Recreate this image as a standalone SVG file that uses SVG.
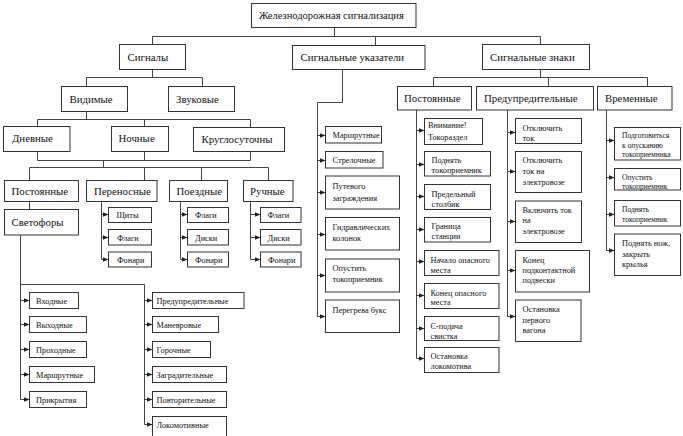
<svg xmlns="http://www.w3.org/2000/svg" width="683" height="436" viewBox="0 0 683 436" font-family="Liberation Serif, serif">
<style>
.b{fill:#fff;stroke:#333;stroke-width:1}
.t{font-family:"Liberation Serif","Times New Roman",serif;font-size:10.8px;fill:#111}
.r{font-size:10.5px}
.s{font-size:8.3px}
.x{font-size:7.5px}
.c{fill:none;stroke:#444;stroke-width:1}
.a{fill:none;stroke:#444;stroke-width:1;marker-end:url(#ar)}
</style>
<defs>
<marker id="ar" markerWidth="6" markerHeight="6" refX="6" refY="3" orient="auto" markerUnits="userSpaceOnUse"><path d="M0,0.5 L6,3 L0,5.5z" fill="#222"/></marker>
</defs>
<rect width="683" height="436" fill="#fff"/>
<g id="connectors">
<path class="c" d="M334.5,27.5V36.5M152.5,44.5V36.5H540.5V44.5M375.5,36.5V45.5"/>
<path class="c" d="M152.5,69.5V77.5M86.5,86.5V77.5H202.5V86.5"/>
<path class="c" d="M86.5,111.5V119.5M37.5,126.5V119.5H250.5V127.5M144.5,119.5V126.5"/>
<path class="c" d="M37.5,151.5V160.5M144.5,151.5V160.5M250.5,151.5V160.5M37.5,160.5H250.5M103.5,160.5V167.5M29.5,180.5V167.5H268.5V180.5M144.5,167.5V180.5M201.5,167.5V180.5"/>
<path class="c" d="M29.5,201.5V209.5"/>
<path class="c" d="M20.5,235V399.5M20.5,284.5H144.5V424.5"/>
<path class="a" d="M20.5,300.5H29.5"/><path class="a" d="M20.5,324.5H29.5"/><path class="a" d="M20.5,349.5H29.5"/><path class="a" d="M20.5,374.5H29.5"/><path class="a" d="M20.5,399.5H29.5"/>
<path class="a" d="M144.5,300.5H152.5"/><path class="a" d="M144.5,324.5H152.5"/><path class="a" d="M144.5,349.5H152.5"/><path class="a" d="M144.5,374.5H152.5"/><path class="a" d="M144.5,399.5H152.5"/><path class="a" d="M144.5,424.5H152.5"/>
<path class="c" d="M101.5,201.5V259.5M180.5,201.5V259.5M250.5,201.5V259.5"/>
<path class="a" d="M101.5,214.5H108.5"/><path class="a" d="M101.5,237.5H108.5"/><path class="a" d="M101.5,259.5H108.5"/>
<path class="a" d="M180.5,214.5H187.5"/><path class="a" d="M180.5,237.5H187.5"/><path class="a" d="M180.5,259.5H187.5"/>
<path class="a" d="M250.5,214.5H260.5"/><path class="a" d="M250.5,237.5H260.5"/><path class="a" d="M250.5,259.5H260.5"/>
<path class="c" d="M342.5,69.5V102.5H317.5V316.5"/>
<path class="a" d="M317.5,135.5H325.5"/><path class="a" d="M317.5,160.5H325.5"/><path class="a" d="M317.5,192.5H325.5"/><path class="a" d="M317.5,234.5H325.5"/><path class="a" d="M317.5,275.5H325.5"/><path class="a" d="M317.5,316.5H325.5"/>
<path class="c" d="M540.5,69.5V77.5M433.5,86.5V77.5H647.5V86.5M548.5,77.5V86.5"/>
<path class="c" d="M416.5,110V358.5"/>
<path class="a" d="M416.5,130.5H424.5"/><path class="a" d="M416.5,164.5H424.5"/><path class="a" d="M416.5,196.5H424.5"/><path class="a" d="M416.5,229.5H424.5"/><path class="a" d="M416.5,261.5H424.5"/><path class="a" d="M416.5,295.5H424.5"/><path class="a" d="M416.5,328.5H424.5"/><path class="a" d="M416.5,358.5H424.5"/>
<path class="c" d="M507.5,110V316.5"/>
<path class="a" d="M507.5,132.5H515.5"/><path class="a" d="M507.5,171.5H515.5"/><path class="a" d="M507.5,221.5H515.5"/><path class="a" d="M507.5,270.5H515.5"/><path class="a" d="M507.5,316.5H515.5"/>
<path class="c" d="M606.5,110V250.5"/>
<path class="a" d="M606.5,140.5H614.5"/><path class="a" d="M606.5,177.5H614.5"/><path class="a" d="M606.5,214.5H614.5"/><path class="a" d="M606.5,250.5H614.5"/>
</g>
<g id="root"><rect class="b" x="251.5" y="3.5" width="164.5" height="24"/><text class="t r" x="259" y="19">Железнодорожная сигнализация</text></g>
<g id="signals"><rect class="b" x="119.5" y="44.5" width="66" height="25"/><text class="t" x="127.5" y="60.5">Сигналы</text></g>
<g id="indicators"><rect class="b" x="292.5" y="45.5" width="132.5" height="24"/><text class="t" x="300.5" y="61">Сигнальные указатели</text></g>
<g id="signs"><rect class="b" x="482.5" y="44.5" width="107" height="25"/><text class="t" x="490" y="60.5">Сигнальные знаки</text></g>
<g id="visible"><rect class="b" x="61.5" y="86.5" width="66" height="25"/><text class="t" x="69.5" y="102.5">Видимые</text></g>
<g id="sound"><rect class="b" x="168.5" y="86.5" width="66" height="25"/><text class="t" x="176" y="102.5">Звуковые</text></g>
<g id="day"><rect class="b" x="3.5" y="126.5" width="66.5" height="25"/><text class="t" x="12" y="142">Дневные</text></g>
<g id="night"><rect class="b" x="111.5" y="126.5" width="57" height="25"/><text class="t" x="118.5" y="142">Ночные</text></g>
<g id="allday"><rect class="b" x="193.5" y="127.5" width="91" height="24"/><text class="t" x="201.5" y="143">Круглосуточны</text></g>
<g id="permanent"><rect class="b" x="4.5" y="180.5" width="74" height="21"/><text class="t" x="11.5" y="195">Постоянные</text></g>
<g id="lights"><rect class="b" x="4.5" y="209.5" width="74" height="25.5"/><text class="t" x="11.5" y="226">Светофоры</text></g>
<g id="portable"><rect class="b" x="86.5" y="180.5" width="70.5" height="21"/><text class="t" x="94" y="195">Переносные</text></g>
<g id="train"><rect class="b" x="169.5" y="180.5" width="58" height="21"/><text class="t" x="176.5" y="195">Поездные</text></g>
<g id="hand"><rect class="b" x="243.5" y="180.5" width="49.5" height="21"/><text class="t" x="250" y="195">Ручные</text></g>
<g id="p1"><rect class="b" x="108.5" y="207.5" width="43" height="15"/><text class="t s" x="116.5" y="218">Щиты</text></g>
<g id="p2"><rect class="b" x="108.5" y="229.5" width="43" height="15.5"/><text class="t s" x="117" y="240.5">Флаги</text></g>
<g id="p3"><rect class="b" x="108.5" y="252" width="43" height="15"/><text class="t s" x="117" y="262.5">Фонари</text></g>
<g id="t1"><rect class="b" x="187.5" y="207.5" width="41" height="15"/><text class="t s" x="195" y="218">Флаги</text></g>
<g id="t2"><rect class="b" x="187.5" y="229.5" width="41" height="15.5"/><text class="t s" x="195" y="240.5">Диски</text></g>
<g id="t3"><rect class="b" x="187.5" y="252" width="41" height="15"/><text class="t s" x="195" y="262.5">Фонари</text></g>
<g id="h1"><rect class="b" x="260.5" y="207.5" width="40.5" height="15"/><text class="t s" x="267.5" y="218">Флаги</text></g>
<g id="h2"><rect class="b" x="260.5" y="229.5" width="40.5" height="15.5"/><text class="t s" x="267.5" y="240.5">Диски</text></g>
<g id="h3"><rect class="b" x="260.5" y="252" width="40.5" height="15"/><text class="t s" x="268" y="262.5">Фонари</text></g>
<g id="l1"><rect class="b" x="29.5" y="292.5" width="49" height="16"/><text class="t s" x="36" y="303.5">Входные</text></g>
<g id="l2"><rect class="b" x="29.5" y="316.5" width="57" height="16"/><text class="t s" x="36" y="327.5">Выходные</text></g>
<g id="l3"><rect class="b" x="29.5" y="341.5" width="57" height="16"/><text class="t s" x="36" y="352.5">Проходные</text></g>
<g id="l4"><rect class="b" x="29.5" y="366.5" width="65" height="16"/><text class="t s" x="36" y="377.5">Маршрутные</text></g>
<g id="l5"><rect class="b" x="29.5" y="391.5" width="57" height="16"/><text class="t s" x="36" y="402.5">Прикрытия</text></g>
<g id="r1"><rect class="b" x="152.5" y="292.5" width="91.5" height="16"/><text class="t s" x="156.5" y="303.5">Предупредительные</text></g>
<g id="r2"><rect class="b" x="152.5" y="316.5" width="66" height="16"/><text class="t s" x="156.5" y="327.5">Маневровые</text></g>
<g id="r3"><rect class="b" x="152.5" y="341.5" width="58" height="16"/><text class="t s" x="156.5" y="352.5">Горочные</text></g>
<g id="r4"><rect class="b" x="152.5" y="366.5" width="74" height="16"/><text class="t s" x="156.5" y="377.5">Заградительные</text></g>
<g id="r5"><rect class="b" x="152.5" y="391.5" width="74" height="16"/><text class="t s" x="156.5" y="402.5">Повторительные</text></g>
<g id="r6"><rect class="b" x="152.5" y="416.5" width="74" height="24"/><text class="t s" x="156.5" y="427.5">Локомотивные</text></g>
<g id="u1"><rect class="b" x="325.5" y="126.5" width="56" height="16.5"/><text class="t s" x="332.5" y="138">Маршрутные</text></g>
<g id="u2"><rect class="b" x="325.5" y="151.5" width="57.5" height="16.5"/><text class="t s" x="332.5" y="163">Стрелочные</text></g>
<g id="u3"><rect class="b" x="325.5" y="176" width="74" height="33"/><text class="t s" x="332.5" y="189">Путевого</text><text class="t s" x="332.5" y="200.5">заграждения</text></g>
<g id="u4"><rect class="b" x="325.5" y="217.5" width="74" height="32.5"/><text class="t s" x="332.5" y="229.5">Гидравлических</text><text class="t s" x="332.5" y="240.5">колонок</text></g>
<g id="u5"><rect class="b" x="325.5" y="259" width="74" height="33"/><text class="t s" x="332.5" y="270.5">Опустить</text><text class="t s" x="332.5" y="281.5">токоприемник</text></g>
<g id="u6"><rect class="b" x="325.5" y="300" width="74" height="32.5"/><text class="t s" x="332.5" y="313">Перегрева букс</text></g>
<g id="perm-signs"><rect class="b" x="397.5" y="86.5" width="74" height="23.5"/><text class="t" x="404" y="102">Постоянные</text></g>
<g id="warn-signs"><rect class="b" x="476.5" y="86.5" width="117" height="23.5"/><text class="t" x="484" y="102">Предупредительные</text></g>
<g id="temp-signs"><rect class="b" x="597.5" y="86.5" width="74.5" height="23.5"/><text class="t" x="605" y="102">Временные</text></g>
<g id="k1"><rect class="b" x="424.5" y="118.5" width="58" height="26"/><text class="t s" x="428" y="127.5">Внимание!</text><text class="t s" x="428" y="139.5">Токораздел</text></g>
<g id="k2"><rect class="b" x="424.5" y="151.5" width="66" height="24.5"/><text class="t s" x="431.5" y="163">Поднять</text><text class="t s" x="431.5" y="173">токоприемник</text></g>
<g id="k3"><rect class="b" x="424.5" y="184.5" width="66" height="25"/><text class="t s" x="431.5" y="196.5">Предельный</text><text class="t s" x="431.5" y="206.5">столбик</text></g>
<g id="k4"><rect class="b" x="424.5" y="217.5" width="66" height="24.5"/><text class="t s" x="431.5" y="229">Граница</text><text class="t s" x="431.5" y="238.5">станции</text></g>
<g id="k5"><rect class="b" x="424.5" y="250.5" width="74.5" height="25"/><text class="t s" x="430.5" y="263">Начало опасного</text><text class="t s" x="430.5" y="272.5">места</text></g>
<g id="k6"><rect class="b" x="424.5" y="283.5" width="74.5" height="25"/><text class="t s" x="430.5" y="295.5">Конец опасного</text><text class="t s" x="430.5" y="305">места</text></g>
<g id="k7"><rect class="b" x="424.5" y="316.5" width="74.5" height="24"/><text class="t s" x="430.5" y="329">С-подача</text><text class="t s" x="430.5" y="338.5">свистка</text></g>
<g id="k8"><rect class="b" x="424.5" y="347.5" width="74.5" height="25"/><text class="t s" x="430.5" y="359">Остановка</text><text class="t s" x="430.5" y="369">локомотива</text></g>
<g id="w1"><rect class="b" x="515.5" y="118.5" width="66" height="25"/><text class="t s" x="522.5" y="130.5">Отключить</text><text class="t s" x="522.5" y="140.5">ток</text></g>
<g id="w2"><rect class="b" x="515.5" y="151.5" width="66" height="41"/><text class="t s" x="522.5" y="162.5">Отключить</text><text class="t s" x="522.5" y="174">ток на</text><text class="t s" x="522.5" y="185">электровозе</text></g>
<g id="w3"><rect class="b" x="515.5" y="201" width="66" height="41.5"/><text class="t s" x="522.5" y="212.5">Включить ток</text><text class="t s" x="522.5" y="223">на</text><text class="t s" x="522.5" y="234">электровозе</text></g>
<g id="w4"><rect class="b" x="515.5" y="250.5" width="74" height="41.5"/><text class="t s" x="522.5" y="262.5">Конец</text><text class="t s" x="522.5" y="273">подконтактной</text><text class="t s" x="522.5" y="283">подвески</text></g>
<g id="w5"><rect class="b" x="515.5" y="300" width="65.5" height="41.5"/><text class="t s" x="522.5" y="312">Остановка</text><text class="t s" x="522.5" y="322.5">первого</text><text class="t s" x="522.5" y="333">вагона</text></g>
<g id="v1"><rect class="b" x="614.5" y="127.5" width="66" height="32.5"/><text class="t x" x="622" y="138">Подготовиться</text><text class="t x" x="622" y="148">к опусканию</text><text class="t x" x="622" y="156.5">токоприемника</text></g>
<g id="v2"><rect class="b" x="614.5" y="168.5" width="66" height="21.5"/><text class="t x" x="622" y="179.5">Опустить</text><text class="t x" x="622" y="188.5">токоприемник</text></g>
<g id="v3"><rect class="b" x="614.5" y="200.5" width="66" height="25.5"/><text class="t x" x="622" y="212">Поднять</text><text class="t x" x="622" y="221.5">токоприемник</text></g>
<g id="v4"><rect class="b" x="614.5" y="234" width="66" height="41.5"/><text class="t s" x="622" y="246">Поднять нож,</text><text class="t s" x="622" y="256.5">закрыть</text><text class="t s" x="622" y="267">крылья</text></g>
</svg>
